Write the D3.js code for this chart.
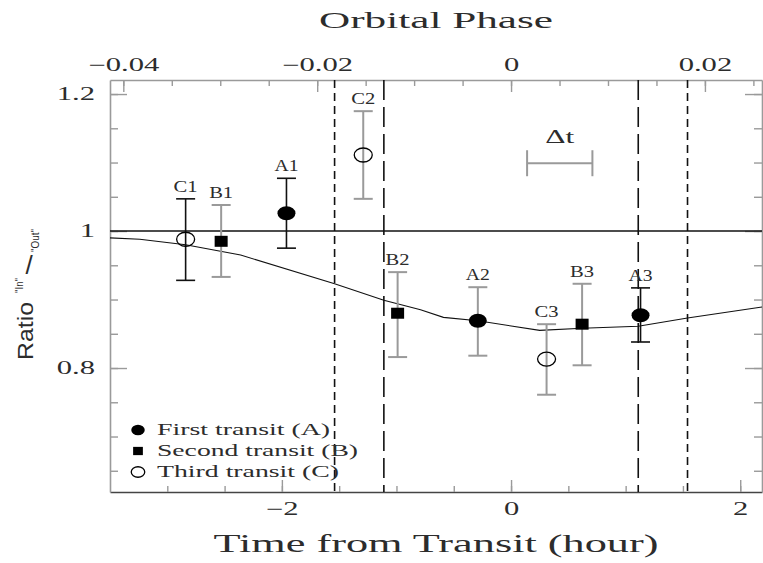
<!DOCTYPE html>
<html><head><meta charset="utf-8">
<script src="https://cdn.jsdelivr.net/npm/d3@7"></script>
<style>html,body{margin:0;padding:0;background:#fff}svg{display:block}</style>
</head><body>
<svg id="chart" width="763" height="563"></svg>
<script>
// ---------------- DATA ----------------
const pointLabels = ["C1", "B1", "A1", "C2", "B2", "A2", "C3", "B3", "A3"];
const pointTransit = ["C", "B", "A", "C", "B", "A", "C", "B", "A"];
const pointTime = [-2.84, -2.53, -1.96, -1.29, -0.99, -0.29, 0.31, 0.62, 1.13];   // hours
const pointRatio = [0.988, 0.985, 1.026, 1.111, 0.880, 0.869, 0.813, 0.864, 0.877];
const pointErrHigh = [1.047, 1.038, 1.077, 1.175, 0.940, 0.918, 0.864, 0.923, 0.917];
const pointErrLow = [0.928, 0.933, 0.975, 1.047, 0.816, 0.818, 0.761, 0.804, 0.838];

const modelTime = [-3.50, -3.24, -2.84, -2.36, -1.54, -1.11, -0.79, -0.59, -0.29, 0.25, 0.62, 1.11, 1.54, 2.19];
const modelRatio = [0.990, 0.988, 0.980, 0.965, 0.923, 0.899, 0.885, 0.874, 0.869, 0.855, 0.858, 0.861, 0.873, 0.889];

const contactTime = [-1.54, -1.11, 1.11, 1.54];
const contactKind = ["outer", "inner", "inner", "outer"];

const deltaT = {start: 0.14, end: 0.71, ratio: 1.099, label: "Δt"};

const legendKeys = ["A", "B", "C"];
const legendLabels = ["First transit (A)", "Second transit (B)", "Third transit (C)"];

const timeDomain = [-3.5, 2.19];
const ratioDomain = [0.619, 1.2205];
const orbitalPeriodDays = 3.52474859;

const hourMinorTicks = [-3, -2.5, -2, -1.5, -1, -0.5, 0, 0.5, 1, 1.5, 2];
const hourMajorTicks = [-2, 0, 2];
const phaseMinorTicks = [-0.04, -0.035, -0.03, -0.025, -0.02, -0.015, -0.01, -0.005, 0, 0.005, 0.01, 0.015, 0.02, 0.025];
const phaseMajorTicks = [-0.04, -0.02, 0, 0.02];
const ratioMinorTicks = [0.65, 0.7, 0.75, 0.8, 0.85, 0.9, 0.95, 1.0, 1.05, 1.1, 1.15, 1.2];
const ratioMajorTicks = [0.8, 1.0, 1.2];

const titleTop = "Orbital Phase";
const titleBottom = "Time from Transit (hour)";
const yLabelParts = ["Ratio", '"In"', "/", '"Out"'];

// ---------------- STYLE ----------------
const SERIF = "'Liberation Serif', 'DejaVu Serif', serif";
const SANS = "'Liberation Sans', Arial, sans-serif";
const GREY = "#9a9a9a";
const INK = "#111";
const TEXT = "#2c2c2c";
const darkErrorBars = new Set(["C1", "A1", "A3"]);
const dashByKind = {outer: "8,5", inner: "20,7"};
const plot = {left: 110, right: 762, top: 80, bottom: 492};

function stretch(sel, sx) {
  sel.each(function () {
    const w = this.getComputedTextLength();
    if (w > 0) {
      this.setAttribute("textLength", (w * sx).toFixed(2));
      this.setAttribute("lengthAdjust", "spacingAndGlyphs");
    }
  });
}

// ---------------- SCALES ----------------
const svg = d3.select("#chart");
const x = d3.scaleLinear().domain(timeDomain).range([plot.left, plot.right]);
const y = d3.scaleLinear().domain(ratioDomain).range([plot.bottom, plot.top]);
const hoursPerCycle = orbitalPeriodDays * 24;
const xPhase = d3.scaleLinear().domain(timeDomain.map(t => t / hoursPerCycle)).range([plot.left, plot.right]);

function styleAxis(g, lineColor, domainColor) {
  g.selectAll(".tick line").attr("stroke", lineColor).attr("stroke-width", 1.4);
  g.select(".domain").attr("stroke", domainColor).attr("stroke-width", 1.6);
  g.selectAll(".tick text").attr("fill", TEXT).attr("font-family", SERIF).attr("font-size", 18)
    .call(s => stretch(s, 1.7));
}

// ---------------- AXES ----------------
svg.append("g").attr("transform", `translate(0,${plot.bottom})`)
  .call(d3.axisBottom(x).tickValues(hourMinorTicks).tickSize(-6).tickSizeOuter(0).tickFormat(""))
  .call(g => styleAxis(g, GREY, "#444"));
svg.append("g").attr("transform", `translate(0,${plot.bottom})`)
  .call(d3.axisBottom(x).tickValues(hourMajorTicks).tickSize(-12).tickSizeOuter(0).tickPadding(10).tickFormat(d3.format("")))
  .call(g => { styleAxis(g, GREY, "#444"); g.select(".domain").remove(); });

svg.append("g").attr("transform", `translate(0,${plot.top})`)
  .call(d3.axisTop(xPhase).tickValues(phaseMinorTicks).tickSize(-6).tickSizeOuter(0).tickFormat(""))
  .call(g => styleAxis(g, GREY, GREY));
svg.append("g").attr("transform", `translate(0,${plot.top})`)
  .call(d3.axisTop(xPhase).tickValues(phaseMajorTicks).tickSize(-12).tickSizeOuter(0).tickPadding(9)
    .tickFormat(d => d === 0 ? "0" : d3.format(".2f")(d)))
  .call(g => { styleAxis(g, GREY, GREY); g.select(".domain").remove(); });

svg.append("g").attr("transform", `translate(${plot.left},0)`)
  .call(d3.axisLeft(y).tickValues(ratioMinorTicks).tickSize(-8).tickSizeOuter(0).tickFormat(""))
  .call(g => styleAxis(g, GREY, GREY));
svg.append("g").attr("transform", `translate(${plot.left},0)`)
  .call(d3.axisLeft(y).tickValues(ratioMajorTicks).tickSize(-17).tickSizeOuter(0).tickPadding(15).tickFormat(d3.format("")))
  .call(g => { styleAxis(g, GREY, GREY); g.select(".domain").remove(); });

svg.append("g").attr("transform", `translate(${plot.right},0)`)
  .call(d3.axisRight(y).tickValues(ratioMinorTicks).tickSize(-8).tickSizeOuter(0).tickFormat(""))
  .call(g => styleAxis(g, GREY, GREY));
svg.append("g").attr("transform", `translate(${plot.right},0)`)
  .call(d3.axisRight(y).tickValues(ratioMajorTicks).tickSize(-17).tickSizeOuter(0).tickFormat(""))
  .call(g => { styleAxis(g, GREY, GREY); g.select(".domain").remove(); });

// ---------------- TITLES ----------------
const midX = (plot.left + plot.right) / 2;
svg.append("text").attr("x", midX).attr("y", 28).attr("text-anchor", "middle")
  .attr("font-family", SERIF).attr("font-size", 24).attr("fill", TEXT)
  .attr("textLength", 234).attr("lengthAdjust", "spacingAndGlyphs").text(titleTop);
svg.append("text").attr("x", midX).attr("y", 552).attr("text-anchor", "middle")
  .attr("font-family", SERIF).attr("font-size", 26).attr("fill", TEXT)
  .attr("textLength", 445).attr("lengthAdjust", "spacingAndGlyphs").text(titleBottom);

// y label: Ratio "In"/"Out"  (rotated parts + upright fraction slash)
const yl = svg.append("g").attr("transform", "translate(33,360) rotate(-90)");
yl.append("text").attr("x", 0).attr("y", 0).attr("font-family", SANS).attr("font-size", 22)
  .attr("fill", TEXT).attr("textLength", 58).attr("lengthAdjust", "spacingAndGlyphs").text(yLabelParts[0]);
yl.append("text").attr("x", 67).attr("y", -10).attr("font-family", SANS).attr("font-size", 10)
  .attr("fill", TEXT).attr("textLength", 15).attr("lengthAdjust", "spacingAndGlyphs").text(yLabelParts[1]);
yl.append("text").attr("x", 108).attr("y", 6).attr("font-family", SANS).attr("font-size", 11)
  .attr("fill", TEXT).attr("textLength", 23).attr("lengthAdjust", "spacingAndGlyphs").text(yLabelParts[3]);
svg.append("text").attr("x", 29).attr("y", 274).attr("text-anchor", "middle").attr("font-family", SANS)
  .attr("font-size", 26).attr("fill", TEXT).text(yLabelParts[2]);

// ---------------- REFERENCE LINES ----------------
svg.append("line").attr("x1", plot.left).attr("x2", plot.right).attr("y1", y(1)).attr("y2", y(1))
  .attr("stroke", INK).attr("stroke-width", 1.4);

svg.append("g").selectAll("line").data(contactTime).join("line")
  .attr("x1", d => x(d)).attr("x2", d => x(d)).attr("y1", plot.top).attr("y2", plot.bottom)
  .attr("stroke", INK).attr("stroke-width", 1.6)
  .attr("stroke-dasharray", (d, i) => dashByKind[contactKind[i]]);

svg.append("path").datum(modelTime.map((t, i) => [t, modelRatio[i]]))
  .attr("d", d3.line().x(d => x(d[0])).y(d => y(d[1])))
  .attr("fill", "none").attr("stroke", INK).attr("stroke-width", 1.1);

// Δt bar
const dt = svg.append("g");
dt.append("line").attr("x1", x(deltaT.start)).attr("x2", x(deltaT.end)).attr("y1", y(deltaT.ratio)).attr("y2", y(deltaT.ratio))
  .attr("stroke", GREY).attr("stroke-width", 2);
[deltaT.start, deltaT.end].forEach(t => {
  dt.append("line").attr("x1", x(t)).attr("x2", x(t)).attr("y1", y(deltaT.ratio) - 13).attr("y2", y(deltaT.ratio) + 13)
    .attr("stroke", GREY).attr("stroke-width", 2);
});
dt.append("text").attr("x", x((deltaT.start + deltaT.end) / 2)).attr("y", y(deltaT.ratio) - 20)
  .attr("text-anchor", "middle").attr("font-family", SERIF).attr("font-size", 18).attr("fill", TEXT)
  .attr("textLength", 29).attr("lengthAdjust", "spacingAndGlyphs").text(deltaT.label);

// ---------------- DATA POINTS ----------------
function drawMarker(g, key, cx, cy, s) {
  if (key === "A") {
    g.append("ellipse").attr("cx", cx).attr("cy", cy).attr("rx", 9 * s).attr("ry", 7 * s).attr("fill", "#000");
  } else if (key === "B") {
    g.append("rect").attr("x", cx - 6.5 * s).attr("y", cy - 5.5 * s).attr("width", 13 * s).attr("height", 11 * s).attr("fill", "#000");
  } else {
    g.append("ellipse").attr("cx", cx).attr("cy", cy).attr("rx", 9 * s).attr("ry", 7 * s)
      .attr("fill", "none").attr("stroke", "#000").attr("stroke-width", 1.3);
  }
}

const pts = svg.append("g");
pointLabels.forEach((lab, i) => {
  const cx = x(pointTime[i]);
  const dark = darkErrorBars.has(lab);
  const col = dark ? INK : GREY;
  const sw = dark ? 1.6 : 2;
  const g = pts.append("g");
  g.append("line").attr("x1", cx).attr("x2", cx).attr("y1", y(pointErrLow[i])).attr("y2", y(pointErrHigh[i]))
    .attr("stroke", col).attr("stroke-width", sw);
  [pointErrLow[i], pointErrHigh[i]].forEach(v => {
    g.append("line").attr("x1", cx - 9.5).attr("x2", cx + 9.5).attr("y1", y(v)).attr("y2", y(v))
      .attr("stroke", col).attr("stroke-width", sw);
  });
  drawMarker(g, pointTransit[i], cx, y(pointRatio[i]), 1);
  g.append("text").attr("x", cx).attr("y", y(pointErrHigh[i]) - 7).attr("text-anchor", "middle")
    .attr("font-family", SERIF).attr("font-size", 16).attr("fill", TEXT)
    .attr("textLength", 24).attr("lengthAdjust", "spacingAndGlyphs").text(lab);
});

// ---------------- LEGEND ----------------
const leg = svg.append("g");
const legendY = [430, 451, 472];
const legendWidth = [173, 201, 182];
legendKeys.forEach((k, i) => {
  drawMarker(leg, k, 138, legendY[i], 0.75);
  leg.append("text").attr("x", 157).attr("y", legendY[i] + 5).attr("font-family", SERIF).attr("font-size", 16)
    .attr("fill", TEXT).attr("textLength", legendWidth[i]).attr("lengthAdjust", "spacingAndGlyphs").text(legendLabels[i]);
});
</script>
</body></html>
